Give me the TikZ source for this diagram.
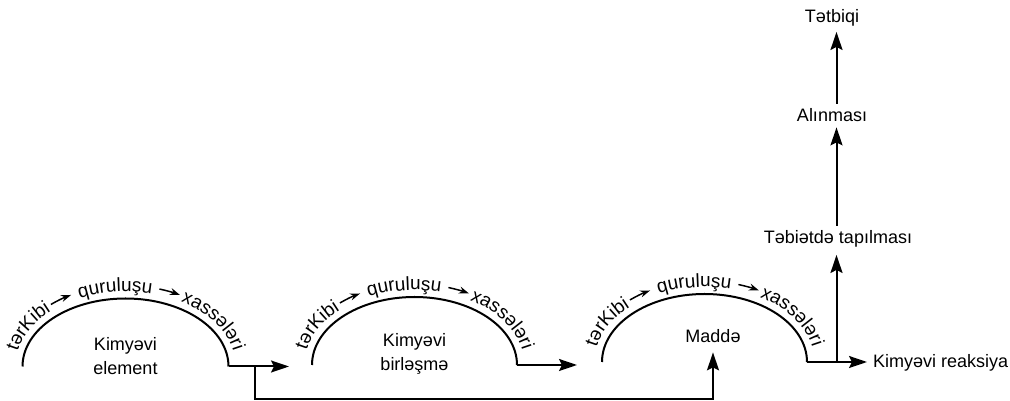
\documentclass[tikz,border=0pt]{standalone}
\usepackage{fontspec}
\setmainfont{Liberation Sans}
\usetikzlibrary{calc,arrows.meta,decorations.text}
\newcommand\arcfont{\fontsize{19}{19}\selectfont}
\def\arcword(#1)(#2:#3)#4{\path[decorate,decoration={text along path,text align=center,text={|\arcfont|#4}}] ($(#1)+({110*cos(#2)},{75*sin(#2)})$) arc[start angle=#2,end angle=#3,x radius=110,y radius=75];}
\def\arcarrow(#1)(#2:#3){\draw[smallarrow] ($(#1)+({116*cos(#2)},{81*sin(#2)})$) arc[start angle=#2,end angle=#3,x radius=116,y radius=81];}

\begin{document}
\begin{tikzpicture}[x=1pt,y=1pt,
	thickline/.style={line width=2pt},
	bigarrow/.style={line width=2pt,-{Stealth[length=18pt,width=12pt,inset=3pt]}},
	smallarrow/.style={line width=1.5pt,-{Stealth[length=10pt,width=7pt]}},
	lbl/.style={font=\fontsize{18}{24}\selectfont,inner sep=0pt,align=center}]
			%%%%% START %%%%%
			
			\useasboundingbox (0,0) rectangle (1010,401);
			
			\coordinate (c1) at (125.5,34.5);
			\coordinate (c2) at (414.5,36);
			\coordinate (c3) at (704.5,39);
			\coordinate (e1l) at (22.5,34.5);
			\coordinate (e1r) at (228.5,34.5);
			\coordinate (e2l) at (312,36);
			\coordinate (e2r) at (517,36);
			\coordinate (e3l) at (602,39);
			\coordinate (e3r) at (807,39);
			
			\draw[thickline] (e1l) arc[start angle=180,end angle=0,x radius=103,y radius=68];
			\draw[thickline] (e2l) arc[start angle=180,end angle=0,x radius=102.5,y radius=68];
			\draw[thickline] (e3l) arc[start angle=180,end angle=0,x radius=102.5,y radius=68];
			
			\arcword(c1)(188:118){tərKibi}
			\arcarrow(c1)(130:118)
			\arcword(c1)(136:56){quruluşu}
			\arcarrow(c1)(73:62)
			\arcword(c1)(73:-7){xassələri}
			
			\arcword(c2)(188:118){tərKibi}
			\arcarrow(c2)(130:118)
			\arcword(c2)(136:56){quruluşu}
			\arcarrow(c2)(73:62)
			\arcword(c2)(73:-7){xassələri}
			
			\arcword(c3)(188:118){tərKibi}
			\arcarrow(c3)(130:118)
			\arcword(c3)(136:56){quruluşu}
			\arcarrow(c3)(73:62)
			\arcword(c3)(73:-7){xassələri}
			
			\node[lbl] (kim1) at (125.5,44.5) {Kimyəvi\\element};
			\node[lbl] (kim2) at (414.5,47.5) {Kimyəvi\\birləşmə};
			\node[lbl,anchor=base] (madde) at (713,58) {Maddə};
			
			\node[lbl,anchor=base west] (reak) at (873,33) {Kimyəvi reaksiya};
			\node[lbl,anchor=base] (tapil) at (838,157) {Təbiətdə tapılması};
			\node[lbl,anchor=base] (alin) at (832,279) {Alınması};
			\node[lbl,anchor=base] (tetb) at (832,378) {Tətbiqi};
			
			% element -> birlesme, branch down to madde
			\coordinate (t1) at (289,34.5);
			\coordinate (br) at (255,34.5);
			\coordinate (bot) at (255,1.5);
			\draw[bigarrow] (e1r) -- (t1);
			\draw[bigarrow,shorten >=9pt] (br) -- (bot) -| (madde.south);
			
			\coordinate (t2) at (577,36);
			\draw[bigarrow] (e2r) -- (t2);
			
			% madde -> reaksiya and upwards
			\coordinate (kr) at (836.5,39);
			\draw[bigarrow,shorten >=6pt] (e3r) -- (e3r -| reak.west);
			\draw[bigarrow,shorten >=7pt] (kr) -- (kr |- tapil.south);
			\draw[bigarrow,shorten <=5pt,shorten >=5pt] (kr |- tapil.north) -- (kr |- alin.south);
			\draw[bigarrow,shorten <=5pt,shorten >=5pt] (kr |- alin.north) -- (kr |- tetb.south);
			
			%%%%% END %%%%%
\end{tikzpicture}
\end{document}
